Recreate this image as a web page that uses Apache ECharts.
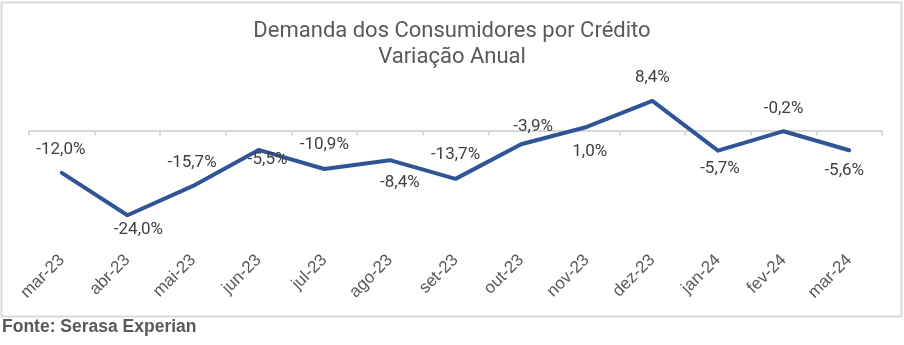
<!DOCTYPE html>
<html>
<head>
<meta charset="utf-8">
<script src="https://cdn.jsdelivr.net/npm/echarts@6/dist/echarts.min.js"></script>
<style>html,body{margin:0;padding:0;background:#fff}#c{width:904px;height:345px}</style>
</head>
<body>
<div id="c"></div>
<script>
var categories = ['mar-23','abr-23','mai-23','jun-23','jul-23','ago-23','set-23','out-23','nov-23','dez-23','jan-24','fev-24','mar-24'];
var values = [-12.0, -24.0, -15.7, -5.5, -10.9, -8.4, -13.7, -3.9, 1.0, 8.4, -5.7, -0.2, -5.6];
var labelOffsets = [[-1,-23],[11,15],[-1,-23],[9,10],[0,-24],[10,23],[0,-24],[12,-18],[3,25],[0,-23],[2,18],[0,-22],[-5,20]];
var titleText = 'Demanda dos Consumidores por Crédito\nVariação Anual';
var sourceText = 'Fonte: Serasa Experian';

var chart = echarts.init(document.getElementById('c'), null, {renderer:'canvas'});
var seriesData = values.map(function(v, i){
  var item = {value: v, label: {offset: labelOffsets[i]}};
  return item;
});
chart.setOption({
  animation: false,
  backgroundColor: '#ffffff',
  title: {
    text: titleText, left: 'center', top: 18, padding: 0,
    textStyle: {fontFamily: 'Roboto', fontSize: 22, fontWeight: 'normal', color: '#595959', lineHeight: 26}
  },
  graphic: [
    {type: 'rect', shape: {x: 1.5, y: 2.5, width: 900, height: 314}, style: {fill: 'none', stroke: '#d9d9d9', lineWidth: 2}, z: -1},
    {type: 'text', left: 2, top: 318, style: {text: sourceText, font: 'bold 17.5px "Liberation Sans", Arial, sans-serif', fill: '#595959'}}
  ],
  grid: {left: 29, right: 22, top: 95.2, bottom: 108.6},
  xAxis: [
    {type: 'category', data: categories, boundaryGap: true,
     axisLine: {onZero: true, lineStyle: {color: '#d9d9d9', width: 2}},
     axisTick: {show: true, length: 5, lineStyle: {color: '#d9d9d9', width: 2}},
     axisLabel: {show: false}},
    {type: 'category', data: categories, position: 'bottom', boundaryGap: true,
     axisLine: {show: false, onZero: false}, axisTick: {show: false},
     axisLabel: {show: true, rotate: 45, margin: 21, interval: 0, fontFamily: '"Liberation Sans", Arial, sans-serif', fontSize: 17, color: '#595959'}}
  ],
  yAxis: {type: 'value', min: -30, max: 10, show: false, splitLine: {show: false}},
  series: [{
    type: 'line', xAxisIndex: 0, data: seriesData,
    symbol: 'circle', symbolSize: 0,
    lineStyle: {color: '#2F5597', width: 4, cap: 'round', join: 'round'},
    itemStyle: {color: '#2F5597'},
    label: {show: true, position: 'inside', fontFamily: 'Roboto', fontSize: 17, color: '#404040',
      formatter: function(p){ return p.value.toFixed(1).replace('.', ',') + '%'; }}
  }]
});
</script>
</body>
</html>
